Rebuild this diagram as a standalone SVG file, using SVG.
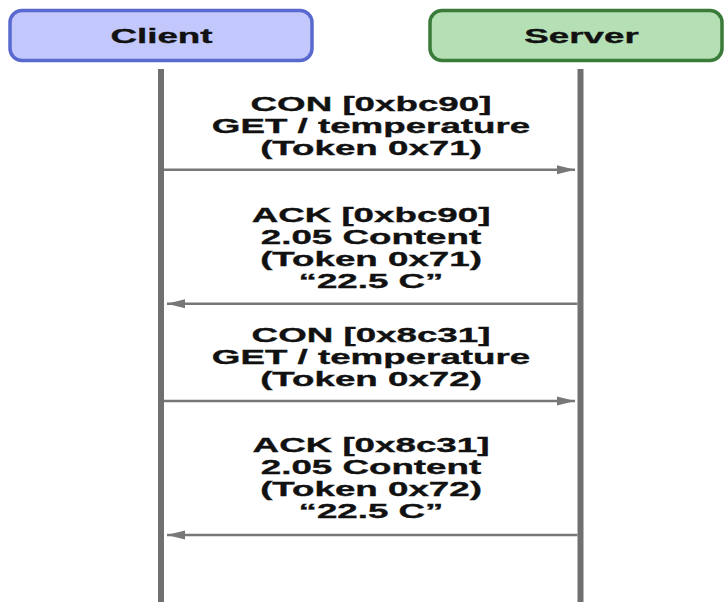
<svg xmlns="http://www.w3.org/2000/svg" width="724" height="602" viewBox="0 0 724 602">
  <style>
    .lbl { font-family: "Liberation Sans", Arial, sans-serif; font-weight: bold; font-size: 21px; fill: #111; stroke: #111; stroke-width: 0.35; text-anchor: middle; }
    .life { stroke: #707070; stroke-width: 6; fill: none; }
    .msg { stroke: #777; stroke-width: 2.5; fill: none; }
  </style>
  <defs>
    <marker id="head" viewBox="0 0 18 10" refX="18" refY="5" markerWidth="18" markerHeight="10" markerUnits="userSpaceOnUse" orient="auto">
      <path d="M0,0.5 L18,5 L0,9.5 Z" fill="#777"/>
    </marker>
  </defs>
  <rect width="724" height="602" fill="#fff"/>

  <!-- participant headers -->
  <g id="client">
    <rect x="10" y="10.5" width="302" height="50" rx="12" fill="#c2c8fb" stroke="#5a69cf" stroke-width="3.5"/>
    <text class="lbl" transform="translate(161.5,43) scale(1.75,1)">Client</text>
  </g>
  <g id="server">
    <rect x="430" y="10.5" width="292" height="50" rx="12" fill="#b5e0b5" stroke="#3a7b3a" stroke-width="3.5"/>
    <text class="lbl" transform="translate(581.5,43) scale(1.75,1)">Server</text>
  </g>

  <!-- lifelines and messages -->
  <g id="connectors">
    <line class="life" x1="161" y1="69" x2="161" y2="602"/>
    <line class="life" x1="580.5" y1="69" x2="580.5" y2="602"/>
    <line class="msg" x1="164" y1="169.7" x2="575" y2="169.7" marker-end="url(#head)"/>
    <line class="msg" x1="577.5" y1="303.7" x2="167" y2="303.7" marker-end="url(#head)"/>
    <line class="msg" x1="164" y1="401" x2="575" y2="401" marker-end="url(#head)"/>
    <line class="msg" x1="577.5" y1="535" x2="167" y2="535" marker-end="url(#head)"/>
  </g>

  <!-- message labels -->
  <g id="msg1-label">
    <text class="lbl" transform="translate(371,110.5) scale(1.75,1)">CON [0xbc90]</text>
    <text class="lbl" transform="translate(371,132.5) scale(1.75,1)">GET / temperature</text>
    <text class="lbl" transform="translate(371,154.5) scale(1.75,1)">(Token 0x71)</text>
  </g>
  <g id="msg2-label">
    <text class="lbl" transform="translate(371,222) scale(1.75,1)">ACK [0xbc90]</text>
    <text class="lbl" transform="translate(371,244) scale(1.75,1)">2.05 Content</text>
    <text class="lbl" transform="translate(371,266) scale(1.75,1)">(Token 0x71)</text>
    <text class="lbl" transform="translate(371,288) scale(1.75,1)">“22.5 C”</text>
  </g>
  <g id="msg3-label">
    <text class="lbl" transform="translate(371,342) scale(1.75,1)">CON [0x8c31]</text>
    <text class="lbl" transform="translate(371,364) scale(1.75,1)">GET / temperature</text>
    <text class="lbl" transform="translate(371,386) scale(1.75,1)">(Token 0x72)</text>
  </g>
  <g id="msg4-label">
    <text class="lbl" transform="translate(371,452) scale(1.75,1)">ACK [0x8c31]</text>
    <text class="lbl" transform="translate(371,474) scale(1.75,1)">2.05 Content</text>
    <text class="lbl" transform="translate(371,496) scale(1.75,1)">(Token 0x72)</text>
    <text class="lbl" transform="translate(371,518) scale(1.75,1)">“22.5 C”</text>
  </g>
</svg>
